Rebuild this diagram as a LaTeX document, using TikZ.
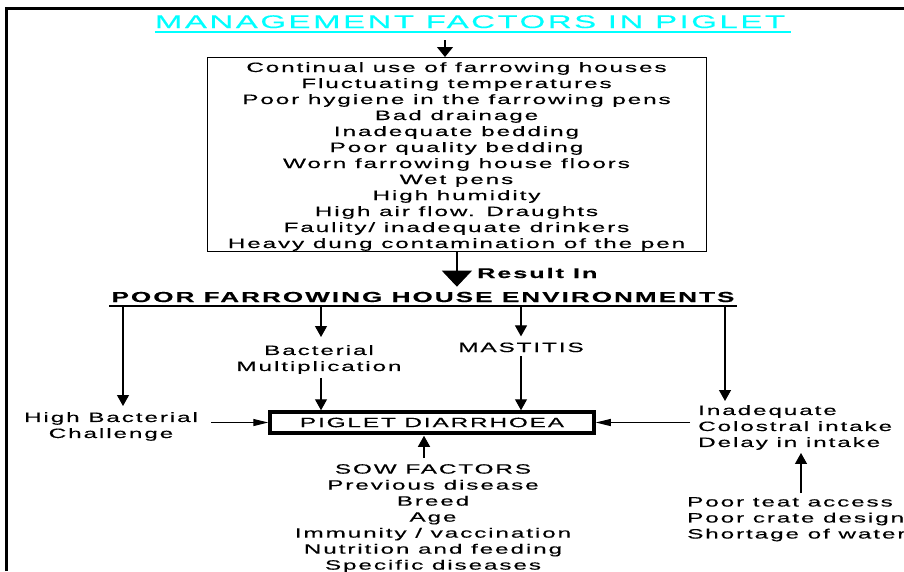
\documentclass[tikz,border=0pt]{standalone}
\usepackage{fontspec}
\newfontfamily\wide[FakeStretch=1.8,LetterSpace=14,FakeBold=0.3]{Liberation Sans}
\usetikzlibrary{arrows.meta,positioning,calc}
\definecolor{titlecyan}{RGB}{0,255,255}

\begin{document}
\begin{tikzpicture}[x=1pt, y=-1pt,
    lbl/.style={font=\wide\fontsize{13.5}{16}\selectfont, inner sep=0pt, align=center},
    arr/.style={-{Triangle[width=12pt,length=11pt]}, line width=1.2pt},
    harr/.style={-{Triangle[width=7pt,length=15pt]}, line width=1.2pt},
    bigarr/.style={-{Triangle[width=30pt,length=16pt]}, line width=1.2pt}]
\useasboundingbox (0,0) rectangle (904,571);

% Frame
\draw[line width=3pt] (6,571) -- (6,8) -- (904,8);

% Title
\node[lbl, anchor=base, text=titlecyan, font=\wide\fontsize{18.3}{22}\selectfont] (title) at (470,28) {MANAGEMENT FACTORS IN PIGLET};
\draw[titlecyan, line width=1.5pt] ([yshift=-4pt]title.base west) -- ([yshift=-4pt, xshift=6pt]title.base east);

% Management factors
\node[lbl, anchor=base] (factorlist) at (456.5,248)
  {Continual use of farrowing houses\\Fluctuating temperatures\\Poor hygiene in the farrowing pens\\
   Bad drainage\\Inadequate bedding\\Poor quality bedding\\Worn farrowing house floors\\Wet pens\\
   High humidity\\High air flow.  Draughts\\Faulity/ inadequate drinkers\\Heavy dung contamination of the pen};
\node[draw, line width=0.8pt, anchor=north west, minimum width=499pt, minimum height=194pt] (factors) at (207,57) {};
\coordinate (a1) at (445,40);
\draw[arr, -{Triangle[width=16pt,length=10pt]}] (a1) -- (a1 |- factors.north);

% Result in
\node[lbl, anchor=base, font=\wide\bfseries\fontsize{14.5}{18}\selectfont] (poor) at (423,302) {POOR FARROWING HOUSE ENVIRONMENTS};
\node[lbl, anchor=base west, font=\wide\bfseries\fontsize{14}{16}\selectfont] (result) at (477,278) {Result In};
\draw[bigarr, shorten >=5pt] (factors.south) -- (factors.south |- poor.north);
\draw[line width=1.5pt] ([yshift=-4pt, xshift=-2pt]poor.base west) -- ([yshift=-4pt, xshift=2pt]poor.base east);

% Points on the underline
\coordinate (b1) at (123,306);
\coordinate (b2) at (321,306);
\coordinate (b3) at (521,306);
\coordinate (b4) at (725,306);

% Effects
\node[lbl, draw, line width=3.5pt, minimum width=324pt, minimum height=21pt] (diarrhoea) at (432,422.5) {PIGLET DIARRHOEA};
\node[lbl, anchor=north] (bact) at (319,345) {Bacterial\\Multiplication};
\node[lbl, anchor=base] (mastitis) at (521,352) {MASTITIS};
\node[lbl, anchor=north] (challenge) at (111,412) {High Bacterial\\Challenge};
\node[lbl, anchor=north west, align=left] (intake) at (698,405) {Inadequate\\Colostral intake\\Delay in intake};
\node[lbl, anchor=north west, align=left] (access) at (687,497) {Poor teat access\\Poor crate design\\Shortage of water};
\node[lbl, anchor=north] (sow) at (433,464) {SOW FACTORS\\Previous disease\\Breed\\Age\\Immunity / vaccination\\Nutrition and feeding\\Specific diseases};

% Arrows
\draw[arr, shorten >=6pt] (b1) -- (b1 |- challenge.north);
\draw[arr, shorten >=8pt] (b2) -- (b2 |- bact.north);
\draw[arr, shorten >=6pt] (b3) -- (b3 |- mastitis.north);
\draw[arr, shorten >=4pt] (b4) -- (b4 |- intake.north);
\draw[arr, shorten <=4pt] (bact.south -| b2) -- (b2 |- diarrhoea.north);
\draw[arr, shorten <=4pt] (mastitis.south -| b3) -- (b3 |- diarrhoea.north);
\draw[harr, shorten <=13pt] (challenge.east |- diarrhoea.west) -- (diarrhoea.west);
\draw[harr, shorten <=8pt] (intake.west |- diarrhoea.east) -- (diarrhoea.east);
\coordinate (u1) at (801,0);
\draw[arr, shorten <=4pt, shorten >=3pt] (access.north -| u1) -- (intake.south -| u1);
\coordinate (u2) at (424,0);
\draw[arr, shorten <=6pt, shorten >=1pt] (sow.north -| u2) -- (diarrhoea.south -| u2);
\end{tikzpicture}
\end{document}
